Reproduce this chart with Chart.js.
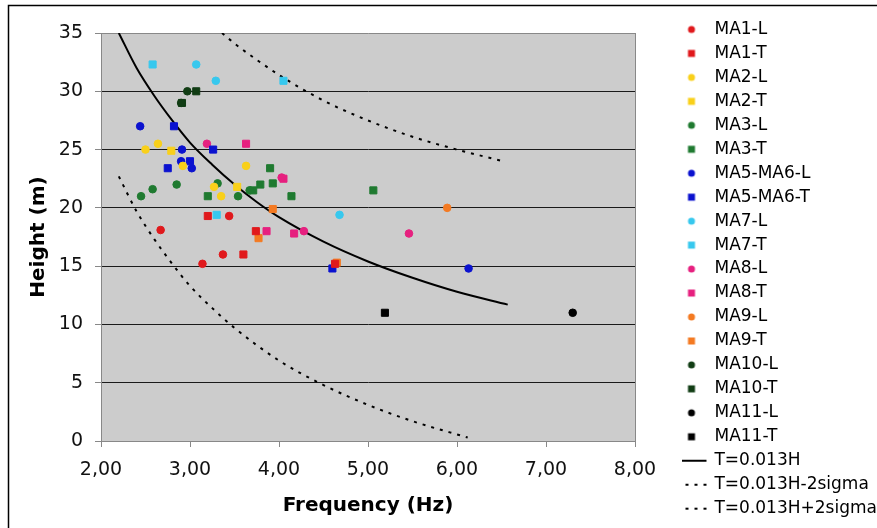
<!DOCTYPE html>
<html>
<head>
<meta charset="utf-8">
<script src="https://cdn.jsdelivr.net/npm/chart.js@4.4.1/dist/chart.umd.min.js"></script>
<style>
  body { margin: 0; background: #fff; }
  #wrap { width: 877px; height: 528px; }
</style>
</head>
<body>
<div id="wrap"><canvas id="myChart"></canvas></div>
<script>
// values: frequency (Hz) and height (m)
const ma1LFreq = [2.67, 3.44, 3.37, 3.14];
const ma1LHeight = [18.1, 19.3, 16.0, 15.2];
const ma1TFreq = [3.20, 3.74, 3.60, 4.63];
const ma1THeight = [19.3, 18.0, 16.0, 15.2];
const ma2LFreq = [2.50, 2.64, 2.92, 3.63, 3.27, 3.35];
const ma2LHeight = [25.0, 25.5, 23.6, 23.6, 21.8, 21.0];
const ma2TFreq = [2.79, 3.53];
const ma2THeight = [24.9, 21.8];
const ma3LFreq = [2.45, 2.58, 2.85, 3.31, 3.54, 3.67];
const ma3LHeight = [21.0, 21.6, 22.0, 22.1, 21.0, 21.5];
const ma3TFreq = [3.20, 3.71, 3.79, 3.93, 3.90, 4.14, 5.06];
const ma3THeight = [21.0, 21.5, 22.0, 22.1, 23.4, 21.0, 21.5];
const ma56LFreq = [2.44, 2.91, 2.90, 3.02, 6.13];
const ma56LHeight = [27.0, 25.0, 24.0, 23.4, 14.8];
const ma56TFreq = [2.82, 3.26, 3.00, 2.75, 4.60];
const ma56THeight = [27.0, 25.0, 24.0, 23.4, 14.8];
const ma7LFreq = [3.07, 3.29, 4.68];
const ma7LHeight = [32.3, 30.9, 19.4];
const ma7TFreq = [2.58, 4.05, 3.30];
const ma7THeight = [32.3, 30.9, 19.4];
const ma8LFreq = [3.19, 4.03, 4.28, 5.46];
const ma8LHeight = [25.5, 22.6, 18.0, 17.8];
const ma8TFreq = [3.63, 4.05, 3.86, 4.17];
const ma8THeight = [25.5, 22.5, 18.0, 17.8];
const ma9LFreq = [5.89];
const ma9LHeight = [20.0];
const ma9TFreq = [3.93, 3.77, 4.65];
const ma9THeight = [19.9, 17.4, 15.3];
const ma10LFreq = [2.97, 2.90];
const ma10LHeight = [30.0, 29.0];
const ma10TFreq = [3.07, 2.91];
const ma10THeight = [30.0, 29.0];
const ma11LFreq = [7.30];
const ma11LHeight = [11.0];
const ma11TFreq = [5.19];
const ma11THeight = [11.0];

// curves
const fitFreq = [2.2, 2.4, 2.6, 2.8, 3.0, 3.25, 3.5, 3.75, 4.0, 4.5, 5.0, 5.5, 6.0, 6.57];
const fitHeight = [35.0, 32.0, 29.6, 27.5, 25.6, 23.7, 22.0, 20.5, 19.2, 17.1, 15.4, 14.0, 12.8, 11.7];
const upFreq = [3.36, 3.5, 3.75, 4.0, 4.5, 5.0, 5.5, 6.0, 6.52];
const upHeight = [35.0, 34.1, 32.7, 31.4, 29.2, 27.5, 26.1, 25.0, 24.0];
const lowFreq = [2.2, 2.4, 2.6, 2.8, 3.0, 3.25, 3.5, 4.0, 4.5, 5.0, 5.5, 6.12];
const lowHeight = [22.7, 19.7, 17.3, 15.2, 13.3, 11.4, 9.7, 6.9, 4.8, 3.1, 1.7, 0.3];

const xTicks = [2, 3, 4, 5, 6, 7, 8];
const yTicks = [0, 5, 10, 15, 20, 25, 30, 35];

function pts(xs, ys) {
  return xs.map(function(x, i) { return { x: x, y: ys[i] }; });
}

function marker(label, xs, ys, color, shape) {
  return {
    label: label,
    data: pts(xs, ys),
    backgroundColor: color,
    borderColor: color,
    borderWidth: 1,
    pointStyle: shape,
    pointRadius: shape === 'rect' ? 5 : 3.8,
    pointHoverRadius: 5,
    kind: shape
  };
}

function curve(label, xs, ys, dash) {
  return {
    label: label,
    data: pts(xs, ys),
    showLine: true,
    borderColor: '#000',
    backgroundColor: '#000',
    borderWidth: 2,
    borderDash: dash,
    pointRadius: 0,
    cubicInterpolationMode: 'monotone',
    kind: 'line'
  };
}

const red = '#e0191c', yellow = '#f9d01a', green = '#1f7a30', blue = '#0b12cf',
      cyan = '#37c8ee', pink = '#e6207f', orange = '#f47a22', dkgreen = '#113d14', black = '#000';

const datasets = [
  marker('MA1-L', ma1LFreq, ma1LHeight, red, 'circle'),
  marker('MA1-T', ma1TFreq, ma1THeight, red, 'rect'),
  marker('MA2-L', ma2LFreq, ma2LHeight, yellow, 'circle'),
  marker('MA2-T', ma2TFreq, ma2THeight, yellow, 'rect'),
  marker('MA3-L', ma3LFreq, ma3LHeight, green, 'circle'),
  marker('MA3-T', ma3TFreq, ma3THeight, green, 'rect'),
  marker('MA5-MA6-L', ma56LFreq, ma56LHeight, blue, 'circle'),
  marker('MA5-MA6-T', ma56TFreq, ma56THeight, blue, 'rect'),
  marker('MA7-L', ma7LFreq, ma7LHeight, cyan, 'circle'),
  marker('MA7-T', ma7TFreq, ma7THeight, cyan, 'rect'),
  marker('MA8-L', ma8LFreq, ma8LHeight, pink, 'circle'),
  marker('MA8-T', ma8TFreq, ma8THeight, pink, 'rect'),
  marker('MA9-L', ma9LFreq, ma9LHeight, orange, 'circle'),
  marker('MA9-T', ma9TFreq, ma9THeight, orange, 'rect'),
  marker('MA10-L', ma10LFreq, ma10LHeight, dkgreen, 'circle'),
  marker('MA10-T', ma10TFreq, ma10THeight, dkgreen, 'rect'),
  marker('MA11-L', ma11LFreq, ma11LHeight, black, 'circle'),
  marker('MA11-T', ma11TFreq, ma11THeight, black, 'rect'),
  curve('T=0.013H', fitFreq, fitHeight, []),
  curve('T=0.013H-2sigma', upFreq, upHeight, [3, 6]),
  curve('T=0.013H+2sigma', lowFreq, lowHeight, [3, 6])
];

// legend icons, drawn a bit left of the box centre
function icon(ds) {
  const c = document.createElement('canvas');
  c.width = 48; c.height = 12;
  const g = c.getContext('2d');
  const cx = 18;
  if (ds.kind === 'circle') {
    g.fillStyle = ds.backgroundColor;
    g.beginPath(); g.arc(cx, 6, 3.5, 0, Math.PI * 2); g.fill();
  } else if (ds.kind === 'rect') {
    g.fillStyle = ds.backgroundColor;
    g.fillRect(cx - 3.5, 2.5, 7, 7);
  } else {
    g.strokeStyle = '#000';
    g.lineWidth = 2;
    g.setLineDash(ds.borderDash);
    g.beginPath(); g.moveTo(cx - 15, 6); g.lineTo(cx + 15, 6); g.stroke();
  }
  return c;
}

const frame = {
  id: 'frame',
  beforeDraw: function(chart) {
    const ctx = chart.ctx, a = chart.chartArea;
    ctx.save();
    ctx.fillStyle = '#fff';
    ctx.fillRect(0, 0, chart.width, chart.height);
    ctx.fillStyle = '#cccccc';
    ctx.fillRect(a.left, a.top, a.right - a.left, a.bottom - a.top);
    ctx.strokeStyle = '#000';
    ctx.lineWidth = 1.5;
    ctx.beginPath();
    ctx.moveTo(8.5, 528); ctx.lineTo(8.5, 5.5); ctx.lineTo(877, 5.5);
    ctx.stroke();
    ctx.restore();
  }
};

new Chart(document.getElementById('myChart'), {
  type: 'scatter',
  data: { datasets: datasets },
  plugins: [frame],
  options: {
    responsive: true,
    maintainAspectRatio: false,
    animation: false,
    layout: { padding: { top: 14, right: 0, bottom: 0, left: 0 } },
    plugins: {
      tooltip: { enabled: false },
      legend: {
        position: 'right',
        align: 'start',
        maxWidth: 195,
        labels: {
          usePointStyle: true,
          padding: 6.96,
          color: '#1a1a1a',
          font: { family: 'DejaVu Sans', size: 17 },
          generateLabels: function(chart) {
            return chart.data.datasets.map(function(ds, i) {
              return {
                text: ds.label,
                pointStyle: icon(ds),
                fillStyle: ds.backgroundColor,
                strokeStyle: ds.borderColor,
                lineWidth: 0,
                hidden: false,
                datasetIndex: i
              };
            });
          }
        }
      }
    },
    scales: {
      x: {
        type: 'linear',
        position: 'bottom',
        min: xTicks[0],
        max: xTicks[xTicks.length - 1],
        afterFit: function(s) { s.height = 87; },
        afterBuildTicks: function(s) { s.ticks = xTicks.map(function(v) { return { value: v }; }); },
        grid: { drawOnChartArea: false, drawTicks: true, tickLength: 6, color: '#888' },
        border: { color: '#888', width: 1 },
        ticks: {
          padding: 12,
          color: '#111',
          font: { family: 'DejaVu Sans', size: 19 },
          callback: function(v) { return v.toFixed(2).replace('.', ','); }
        },
        title: {
          display: true,
          text: 'Frequency (Hz)',
          color: '#000',
          font: { family: 'DejaVu Sans', size: 20, weight: 'bold' },
          padding: { top: 0, bottom: 10 }
        }
      },
      y: {
        type: 'linear',
        position: 'left',
        min: yTicks[0],
        max: yTicks[yTicks.length - 1],
        afterFit: function(s) { s.width = 101; },
        afterBuildTicks: function(s) { s.ticks = yTicks.map(function(v) { return { value: v }; }); },
        grid: {
          drawTicks: true,
          tickLength: 6,
          tickColor: '#888',
          color: function(c) { return (c.tick && (c.tick.value === 0 || c.tick.value === 35)) ? '#888' : '#1a1a1a'; },
          lineWidth: 1
        },
        border: { color: '#888', width: 1 },
        ticks: {
          padding: 12,
          color: '#111',
          font: { family: 'DejaVu Sans', size: 19 }
        },
        title: {
          display: true,
          text: 'Height (m)',
          color: '#000',
          font: { family: 'DejaVu Sans', size: 20, weight: 'bold' },
          padding: { top: 27, bottom: 0 }
        }
      },
      xTop: {
        type: 'linear',
        position: 'top',
        afterFit: function(s) { s.height = 19; },
        grid: { display: false },
        border: { display: false },
        ticks: { display: false }
      },
      yRight: {
        type: 'linear',
        position: 'right',
        afterFit: function(s) { s.width = 47; },
        grid: { display: false },
        border: { display: true, color: '#888' },
        ticks: { display: false }
      }
    }
  }
});
</script>
</body>
</html>
